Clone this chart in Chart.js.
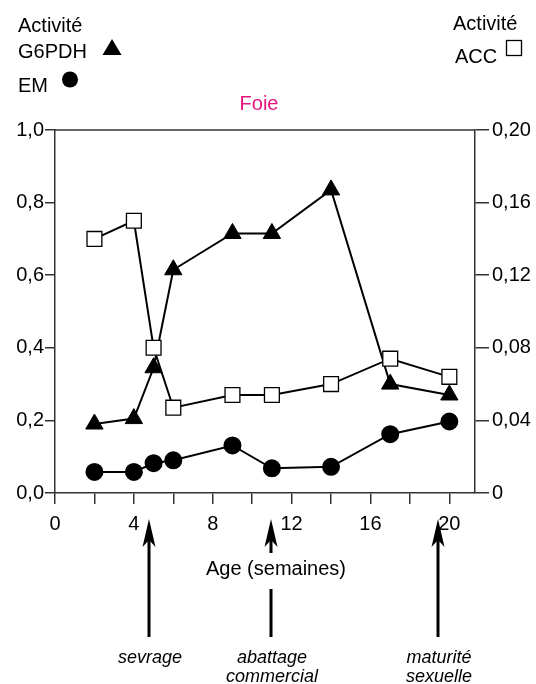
<!DOCTYPE html>
<html>
<head>
<meta charset="utf-8">
<script src="https://cdn.jsdelivr.net/npm/chart.js"></script>
<style>
  body { margin: 0; background: #fff; }
  .wrap { width: 536px; height: 684px; }
</style>
</head>
<body>
<div class="wrap"><canvas id="foie"></canvas></div>
<script>
// Age (semaines)
const ages = [2, 4, 5, 6, 9, 11, 14, 17, 20];
// Activité G6PDH (axe gauche)
const g6pdh = [0.19, 0.205, 0.345, 0.615, 0.715, 0.715, 0.835, 0.30, 0.27];
// Activité EM (axe gauche)
const em = [0.058, 0.058, 0.082, 0.09, 0.131, 0.068, 0.072, 0.162, 0.197];
// Activité ACC (axe droit)
const acc = [0.14, 0.15, 0.08, 0.047, 0.054, 0.054, 0.06, 0.074, 0.064];

const ageTicks = [0, 2, 4, 6, 8, 10, 12, 14, 16, 18, 20];
const ageTickLabels = ['0', '', '4', '', '8', '', '12', '', '16', '', '20'];
const leftTicks = [0, 0.2, 0.4, 0.6, 0.8, 1.0];
const leftTickLabels = ['0,0', '0,2', '0,4', '0,6', '0,8', '1,0'];
const rightTicks = [0, 0.04, 0.08, 0.12, 0.16, 0.20];
const rightTickLabels = ['0', '0,04', '0,08', '0,12', '0,16', '0,20'];

// repères sous l'axe des âges
const eventAges = [4.75, 10.95, 19.4];
const eventLabels = [['sevrage'], ['abattage', 'commercial'], ['maturité', 'sexuelle']];

const font = '"Liberation Sans", Arial, sans-serif';
const axisColor = '#333';

const toPoints = (ys) => ages.map((a, i) => ({ x: a, y: ys[i] }));

const pickLabel = (ticks, labels) => (v) => {
  const i = ticks.findIndex(t => Math.abs(t - v) < 1e-6);
  return i >= 0 ? labels[i] : '';
};

const textPlugin = {
  id: 'texts',
  afterDraw(chart) {
    const c = chart.ctx;
    const area = chart.chartArea;
    const xs = chart.scales.x;
    c.save();
    // top border of the frame
    c.strokeStyle = axisColor;
    c.lineWidth = 1.5;
    c.beginPath();
    c.moveTo(area.left, area.top);
    c.lineTo(area.right, area.top);
    c.stroke();

    c.fillStyle = '#000';
    c.font = '20px ' + font;
    c.textBaseline = 'alphabetic';
    c.textAlign = 'left';
    c.fillText('Activité', 18, 32);
    c.fillText('G6PDH', 18, 58);
    c.fillText('EM', 18, 92);
    c.fillText('Activité', 453, 30);
    c.fillText('ACC', 455, 63);

    // legend symbols
    c.beginPath();
    c.moveTo(112, 39);
    c.lineTo(121.5, 55);
    c.lineTo(102.5, 55);
    c.closePath();
    c.fill();
    c.beginPath();
    c.arc(70, 79.5, 8, 0, Math.PI * 2);
    c.fill();
    c.strokeStyle = '#000';
    c.lineWidth = 1.3;
    c.strokeRect(506.5, 40.5, 15, 15);

    c.fillStyle = '#e5147f';
    c.textAlign = 'center';
    c.fillText('Foie', 259, 110);

    c.fillStyle = '#000';
    c.fillText('Age (semaines)', 276, 575);

    // arrows
    c.textBaseline = 'middle';
    eventAges.forEach((a, i) => {
      const x = Math.round(xs.getPixelForValue(a));
      c.lineWidth = 3;
      c.strokeStyle = '#000';
      c.beginPath();
      if (i === 1) {
        c.moveTo(x, 538); c.lineTo(x, 553);
        c.moveTo(x, 589); c.lineTo(x, 637);
      } else {
        c.moveTo(x, 538); c.lineTo(x, 637);
      }
      c.stroke();
      c.beginPath();
      c.moveTo(x, 519);
      c.lineTo(x + 6.5, 547);
      c.lineTo(x, 540);
      c.lineTo(x - 6.5, 547);
      c.closePath();
      c.fill();

      c.font = 'italic 18px ' + font;
      eventLabels[i].forEach((t, k) => {
        c.fillText(t, x + 1, 658 + k * 19);
      });
    });
    c.restore();
  }
};

new Chart(document.getElementById('foie'), {
  type: 'line',
  data: {
    datasets: [
      {
        label: 'ACC',
        data: toPoints(acc),
        yAxisID: 'y2',
        borderColor: '#000',
        borderWidth: 2,
        pointStyle: 'rect',
        pointRadius: 10.5,
        pointBackgroundColor: '#fff',
        pointBorderColor: '#000',
        pointBorderWidth: 1.3,
        order: 0
      },
      {
        label: 'G6PDH',
        data: toPoints(g6pdh),
        yAxisID: 'y',
        borderColor: '#000',
        borderWidth: 2,
        pointStyle: 'triangle',
        pointRadius: 10,
        pointBackgroundColor: '#000',
        pointBorderColor: '#000',
        pointBorderWidth: 1,
        order: 1
      },
      {
        label: 'EM',
        data: toPoints(em),
        yAxisID: 'y',
        borderColor: '#000',
        borderWidth: 2,
        pointStyle: 'circle',
        pointRadius: 8,
        pointBackgroundColor: '#000',
        pointBorderColor: '#000',
        order: 2
      }
    ]
  },
  options: {
    responsive: true,
    maintainAspectRatio: false,
    animation: false,
    layout: { padding: { top: 130 } },
    plugins: {
      legend: { display: false },
      tooltip: { enabled: false }
    },
    scales: {
      x: {
        type: 'linear',
        min: 0,
        max: 21.3,
        afterBuildTicks: (s) => { s.ticks = ageTicks.map(v => ({ value: v })); },
        afterFit: (s) => { s.height = 191; },
        grid: { drawOnChartArea: false, drawTicks: true, tickLength: 11, color: axisColor, lineWidth: 1.5 },
        border: { color: axisColor, width: 1.5 },
        ticks: {
          color: '#000',
          font: { family: font, size: 20 },
          padding: 8,
          maxRotation: 0,
          autoSkip: false,
          callback: pickLabel(ageTicks, ageTickLabels)
        }
      },
      y: {
        position: 'left',
        min: 0,
        max: 1,
        afterBuildTicks: (s) => { s.ticks = leftTicks.map(v => ({ value: v })); },
        afterFit: (s) => { s.width = 55; },
        grid: { drawOnChartArea: false, drawTicks: true, tickLength: 10, color: axisColor, lineWidth: 1.5 },
        border: { color: axisColor, width: 1.5 },
        ticks: {
          color: '#000',
          font: { family: font, size: 20 },
          padding: 1,
          callback: pickLabel(leftTicks, leftTickLabels)
        }
      },
      y2: {
        position: 'right',
        min: 0,
        max: 0.2,
        afterBuildTicks: (s) => { s.ticks = rightTicks.map(v => ({ value: v })); },
        afterFit: (s) => { s.width = 61; },
        grid: { drawOnChartArea: false, drawTicks: true, tickLength: 14, color: axisColor, lineWidth: 1.5 },
        border: { color: axisColor, width: 1.5 },
        ticks: {
          color: '#000',
          font: { family: font, size: 20 },
          padding: 3,
          callback: pickLabel(rightTicks, rightTickLabels)
        }
      }
    }
  },
  plugins: [textPlugin]
});
</script>
</body>
</html>
